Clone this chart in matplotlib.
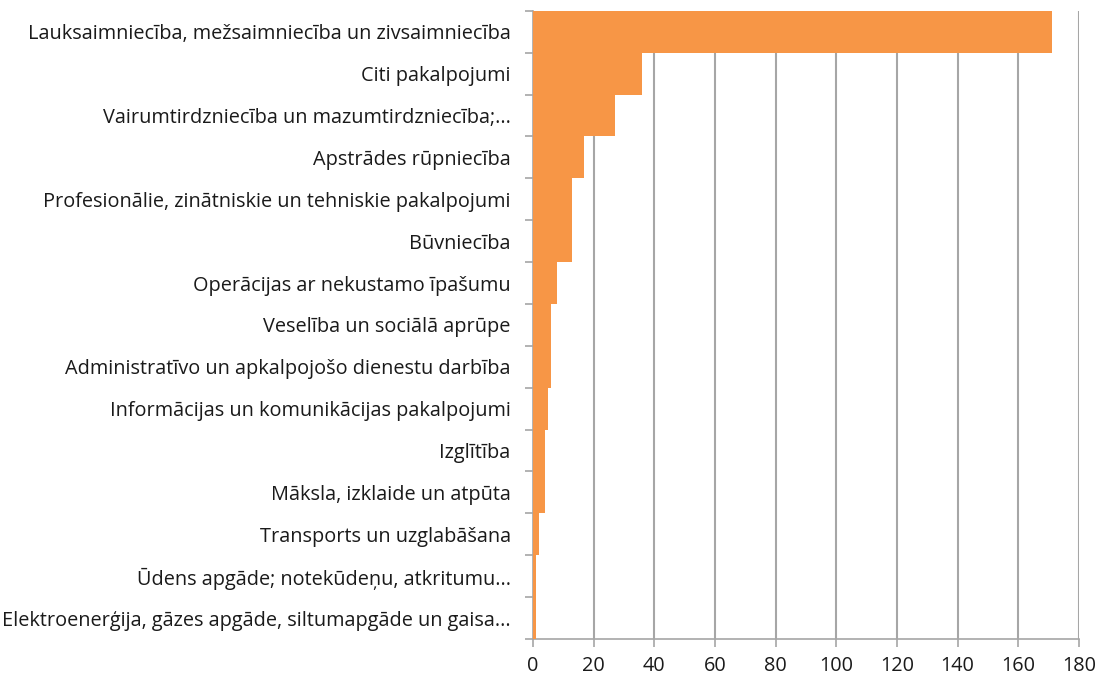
import matplotlib
matplotlib.use("Agg")
import matplotlib.pyplot as plt
import numpy as np

categories = [
    "Lauksaimniecība, mežsaimniecība un zivsaimniecība",
    "Citi pakalpojumi",
    "Vairumtirdzniecība un mazumtirdzniecība;...",
    "Apstrādes rūpniecība",
    "Profesionālie, zinātniskie un tehniskie pakalpojumi",
    "Būvniecība",
    "Operācijas ar nekustamo īpašumu",
    "Veselība un sociālā aprūpe",
    "Administratīvo un apkalpojošo dienestu darbība",
    "Informācijas un komunikācijas pakalpojumi",
    "Izglītība",
    "Māksla, izklaide un atpūta",
    "Transports un uzglabāšana",
    "Ūdens apgāde; notekūdeņu, atkritumu...",
    "Elektroenerģija, gāzes apgāde, siltumapgāde un gaisa...",
]
values = [171, 36, 27, 17, 13, 13, 8, 6, 6, 5, 4, 4, 2, 1, 1]
x_ticks = [0, 20, 40, 60, 80, 100, 120, 140, 160, 180]

plt.rcParams['font.family'] = ['Open Sans', 'DejaVu Sans']

fig = plt.figure(figsize=(11.01, 6.79), dpi=100)
ax = fig.add_axes([0.484, 0.059, 0.496, 0.925])

n = len(categories)
pos = np.arange(n)
ax.barh(pos, values, height=1.0, color='#F79646', zorder=3)
ax.set_ylim(n - 0.5, -0.5)
ax.set_xlim(0, 180)

ax.set_yticks(pos)
ax.set_yticklabels(categories, fontsize=14.3, color='#1a1a1a')
ax.set_yticks(np.arange(-0.5, n, 1), minor=True)
ax.tick_params(axis='y', which='major', length=0, pad=16)
ax.tick_params(axis='y', which='minor', length=6, color='#A6A6A6', width=1.2)

ax.set_xticks(x_ticks)
ax.set_xticklabels([str(v) for v in x_ticks], fontsize=14.3, color='#1a1a1a')
ax.tick_params(axis='x', length=6, color='#A6A6A6', width=1.2, pad=6)

ax.grid(axis='x', color='#A6A6A6', linewidth=1.5, zorder=0)
for s in ['top', 'right']:
    ax.spines[s].set_visible(False)
for s in ['left', 'bottom']:
    ax.spines[s].set_color('#A6A6A6')
    ax.spines[s].set_linewidth(1.2)

fig.savefig('out.png', dpi=100)
